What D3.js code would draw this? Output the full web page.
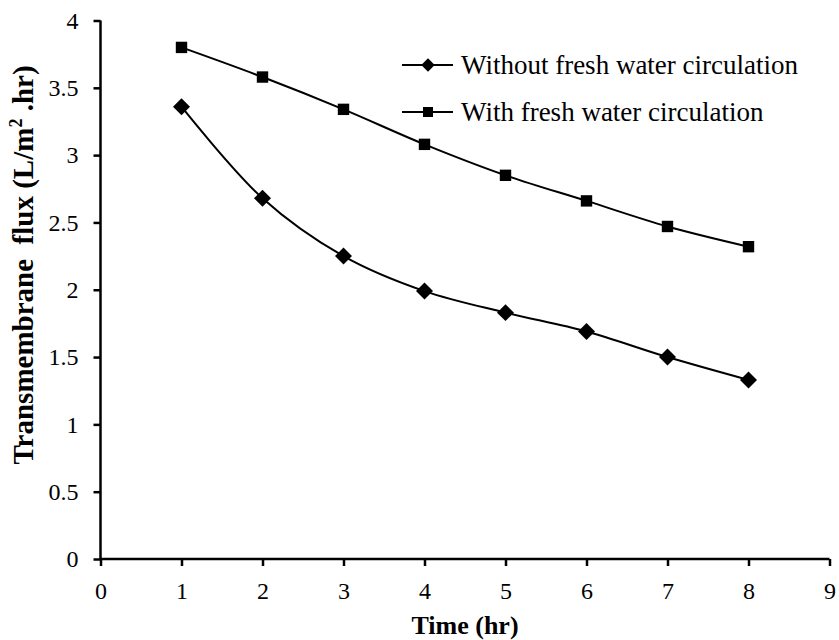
<!DOCTYPE html>
<html>
<head>
<meta charset="utf-8">
<script src="https://cdn.jsdelivr.net/npm/d3@7"></script>
<style>
  body { margin: 0; background: #fff; }
  svg text { font-family: "Liberation Serif", "Times New Roman", serif; fill: #000; }
</style>
</head>
<body>
<svg id="chart" width="839" height="640"></svg>
<script>
var times = [1, 2, 3, 4, 5, 6, 7, 8];
var withoutFresh = [3.36, 2.68, 2.25, 1.99, 1.83, 1.69, 1.50, 1.33];
var withFresh = [3.80, 3.58, 3.34, 3.08, 2.85, 2.66, 2.47, 2.32];
var xTicks = [0, 1, 2, 3, 4, 5, 6, 7, 8, 9];
var yTicks = [0, 0.5, 1, 1.5, 2, 2.5, 3, 3.5, 4];
var seriesNames = ["Without fresh water circulation", "With fresh water circulation"];

var svg = d3.select("#chart");
var plotLeft = 100.5, plotRight = 829.5, plotTop = 20.5, plotBottom = 559;

var x = d3.scaleLinear().domain([0, 9]).range([plotLeft, plotRight]);
var y = d3.scaleLinear().domain([0, 4]).range([plotBottom, plotTop]);

// axes
var xAxis = svg.append("g")
  .attr("transform", "translate(0," + plotBottom + ")")
  .call(d3.axisBottom(x).tickValues(xTicks).tickSize(7).tickPadding(16).tickFormat(d3.format("d")));
var yAxis = svg.append("g")
  .attr("transform", "translate(" + plotLeft + ",0)")
  .call(d3.axisLeft(y).tickValues(yTicks).tickSize(7).tickPadding(15).tickFormat(function(d) { return d; }));

[xAxis, yAxis].forEach(function(a) {
  a.select(".domain").attr("stroke", "#000").attr("stroke-width", 2.5);
  a.selectAll(".tick line").attr("stroke", "#000").attr("stroke-width", 2.5);
  a.selectAll(".tick text").attr("font-size", 24).attr("font-family", "Liberation Serif");
});
yAxis.select(".domain").attr("d", "M0," + plotTop + "V" + plotBottom);
xAxis.select(".domain").attr("d", "M" + plotLeft + ",0H" + plotRight);

// axis titles
svg.append("text")
  .attr("x", 465)
  .attr("y", 634)
  .attr("text-anchor", "middle")
  .attr("font-size", 26)
  .attr("font-weight", "bold")
  .text("Time (hr)");

var yt = svg.append("text")
  .attr("transform", "translate(33,265) rotate(-90)")
  .attr("text-anchor", "middle")
  .attr("font-size", 29)
  .attr("font-weight", "bold")
  .style("white-space", "pre");
yt.append("tspan").text("Transmembrane  flux (L/m");
yt.append("tspan").attr("font-size", 18).attr("dy", -11).text("2");
yt.append("tspan").attr("dy", 11).text(" .hr)");

// lines
var line = d3.line()
  .x(function(d) { return x(d[0]); })
  .y(function(d) { return y(d[1]); })
  .curve(d3.curveCatmullRom.alpha(0.5));

var data1 = times.map(function(t, i) { return [t, withoutFresh[i]]; });
var data2 = times.map(function(t, i) { return [t, withFresh[i]]; });

svg.append("path").datum(data1).attr("d", line)
  .attr("fill", "none").attr("stroke", "#000").attr("stroke-width", 2);
svg.append("path").datum(data2).attr("d", line)
  .attr("fill", "none").attr("stroke", "#000").attr("stroke-width", 2);

svg.selectAll(".dia").data(data1).enter().append("path")
  .attr("transform", function(d) { return "translate(" + x(d[0]) + "," + y(d[1]) + ") rotate(45)"; })
  .attr("d", d3.symbol().type(d3.symbolSquare).size(144)).attr("fill", "#000");
svg.selectAll(".sq").data(data2).enter().append("path")
  .attr("transform", function(d) { return "translate(" + x(d[0]) + "," + y(d[1]) + ")"; })
  .attr("d", d3.symbol().type(d3.symbolSquare).size(130)).attr("fill", "#000");

// legend
var legend = [
  { name: seriesNames[0], y: 65, rot: 45, size: 90 },
  { name: seriesNames[1], y: 112, rot: 0, size: 100 }
];
legend.forEach(function(l) {
  svg.append("line").attr("x1", 402).attr("x2", 453).attr("y1", l.y).attr("y2", l.y)
    .attr("stroke", "#000").attr("stroke-width", 2);
  svg.append("path")
    .attr("transform", "translate(428," + l.y + ") rotate(" + l.rot + ")")
    .attr("d", d3.symbol().type(d3.symbolSquare).size(l.size)).attr("fill", "#000");
  svg.append("text").attr("x", 461).attr("y", l.y + 9)
    .attr("font-size", 27).text(l.name);
});
</script>
</body>
</html>
